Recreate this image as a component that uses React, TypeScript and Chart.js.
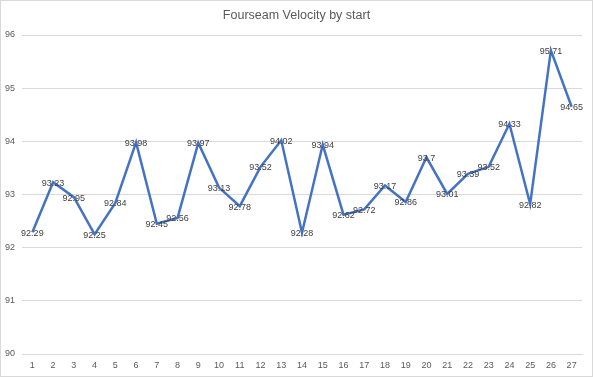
import React, { useEffect, useRef } from "react";
import { Chart, registerables } from "chart.js";

Chart.register(...registerables);

const starts = ["1","2","3","4","5","6","7","8","9","10","11","12","13","14","15","16","17","18","19","20","21","22","23","24","25","26","27"];
const velocity = [92.29, 93.23, 92.95, 92.25, 92.84, 93.98, 92.45, 92.56, 93.97, 93.13, 92.78, 93.52, 94.02, 92.28, 93.94, 92.62, 92.72, 93.17, 92.86, 93.7, 93.01, 93.39, 93.52, 94.33, 92.82, 95.71, 94.65];
const chartTitle = "Fourseam Velocity by start";
const yMin = 90;
const yMax = 96;

const FONT = "'Liberation Sans', Arial, sans-serif";

const labelPlugin = {
  id: "centerLabels",
  afterDatasetsDraw(chart: any) {
    const ctx = chart.ctx;
    const meta = chart.getDatasetMeta(0);
    ctx.save();
    ctx.font = `9px ${FONT}`;
    ctx.fillStyle = "#404040";
    ctx.textAlign = "center";
    ctx.textBaseline = "middle";
    meta.data.forEach((pt: any, i: number) => {
      ctx.fillText(String(velocity[i]), pt.x, pt.y + 1);
    });
    ctx.restore();
  },
};

const titlePlugin = {
  id: "customTitle",
  afterDraw(chart: any) {
    const ctx = chart.ctx;
    ctx.save();
    ctx.font = `12.5px ${FONT}`;
    ctx.fillStyle = "#595959";
    ctx.textAlign = "center";
    ctx.textBaseline = "middle";
    ctx.fillText(chartTitle, chart.width / 2, 16);
    ctx.restore();
  },
};

export default function App() {
  const ref = useRef<HTMLCanvasElement>(null);
  useEffect(() => {
    if (!ref.current) return;
    const chart = new Chart(ref.current, {
      type: "line",
      data: {
        labels: starts,
        datasets: [
          {
            data: velocity,
            borderColor: "#4472C4",
            borderWidth: 2.5,
            pointRadius: 0,
            tension: 0,
            fill: false,
          },
        ],
      },
      options: {
        animation: false,
        responsive: false,
        maintainAspectRatio: false,
        layout: { padding: { top: 35, right: 11, left: 0, bottom: 0 } },
        plugins: {
          legend: { display: false },
          title: { display: false },
          tooltip: { enabled: false },
        },
        scales: {
          x: {
            offset: true,
            grid: { display: false, drawTicks: false },
            border: { color: "#d9d9d9" },
            ticks: { color: "#595959", font: { family: FONT, size: 9 }, padding: 6, maxRotation: 0, autoSkip: false },
            afterFit: (s: any) => { s.height = 23; },
          },
          y: {
            min: yMin,
            max: yMax,
            grid: { color: "#d9d9d9", drawTicks: false },
            border: { display: false },
            ticks: { stepSize: 1, color: "#595959", font: { family: FONT, size: 9 }, padding: 7 },
            afterFit: (s: any) => { s.width = 22; },
          },
        },
      },
      plugins: [labelPlugin, titlePlugin],
    });
    return () => chart.destroy();
  }, []);
  return (
    <div style={{ position: "fixed", left: 0, top: 0, width: 593, height: 377, background: "#fff" }}>
      <canvas ref={ref} width={593} height={377} style={{ position: "absolute", left: 0, top: 0 }} />
      <div style={{ position: "absolute", left: 0, top: 0, width: 593, height: 377, border: "1px solid #d9d9d9", boxSizing: "border-box", pointerEvents: "none" }} />
    </div>
  );
}
